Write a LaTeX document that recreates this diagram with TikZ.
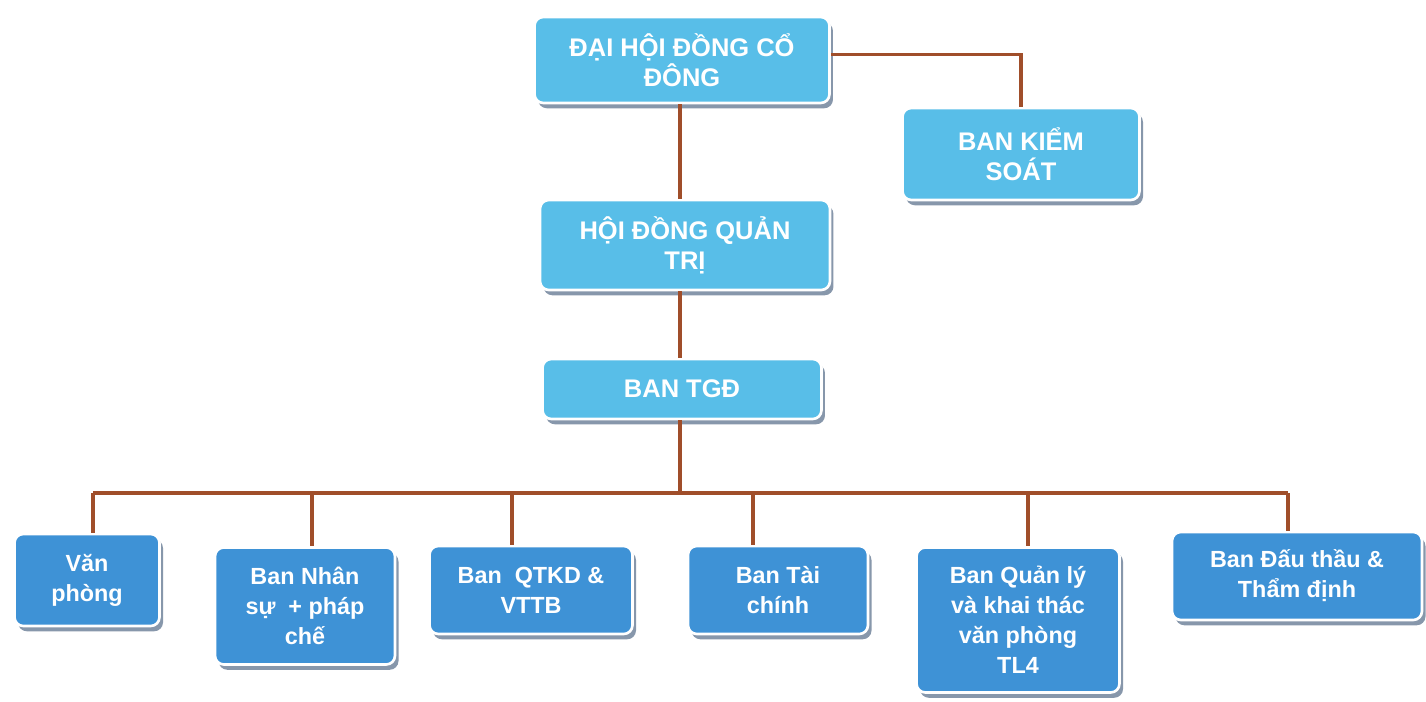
\documentclass[tikz,border=0pt]{standalone}
\usepackage{fontspec}
\setmainfont{Liberation Sans}
\usetikzlibrary{shadows}
\definecolor{topblue}{RGB}{88,190,232}
\definecolor{lowblue}{RGB}{62,146,214}
\definecolor{linkbrown}{RGB}{160,78,42}
\definecolor{shade}{RGB}{105,125,150}

\begin{document}
\begin{tikzpicture}[x=0.02cm,y=-0.02cm]
        \useasboundingbox (0,0) rectangle (1426,701);

        \begin{scope}[every node/.style={fill=topblue, draw=white, line width=1.5pt, rounded corners=5pt,
                      align=center, text=white, font=\bfseries\fontsize{14.5}{17}\selectfont,
                      drop shadow={shadow xshift=2pt, shadow yshift=-3pt, fill=shade, opacity=0.8}}]
            \node[minimum width=5.9cm, minimum height=1.72cm] (DH) at (682,60) {ĐẠI HỘI ĐỒNG CỔ\\ĐÔNG};
            \node[minimum width=4.74cm, minimum height=1.84cm] (KS) at (1021,154) {BAN KIỂM\\SOÁT};
            \node[minimum width=5.8cm, minimum height=1.8cm] (HD) at (685,245) {HỘI ĐỒNG QUẢN\\TRỊ};
            \node[minimum width=5.58cm, minimum height=1.2cm] (TGD) at (682,389) {BAN TGĐ};
        \end{scope}

        \begin{scope}[every node/.style={fill=lowblue, draw=white, line width=1.5pt, rounded corners=5pt,
                      align=center, text=white, font=\bfseries\fontsize{13.3}{17}\selectfont,
                      drop shadow={shadow xshift=2pt, shadow yshift=-3pt, fill=shade, opacity=0.8}}]
            \node[minimum width=2.9cm, minimum height=1.84cm] (VP) at (87,580) {Văn\\phòng};
            \node[minimum width=3.6cm, minimum height=2.34cm] (NS) at (305,606) {Ban Nhân\\sự~ + pháp\\chế};
            \node[minimum width=4.06cm, minimum height=1.76cm] (QT) at (531,590) {Ban~ QTKD \&\\VTTB};
            \node[minimum width=3.6cm, minimum height=1.76cm] (TC) at (778,590) {Ban Tài\\chính};
            \node[minimum width=4.06cm, minimum height=2.9cm] (QL) at (1018,620) {Ban Quản lý\\và khai thác\\văn phòng\\TL4};
            \node[minimum width=5.0cm, minimum height=1.76cm] (DT) at (1297,576) {Ban Đấu thầu \&\\Thẩm định};
        \end{scope}

        \coordinate (bus) at (680,493);
        \coordinate (d1) at (93,493);
        \coordinate (d2) at (312,493);
        \coordinate (d3) at (512,493);
        \coordinate (d4) at (753,493);
        \coordinate (d5) at (1028,493);
        \coordinate (d6) at (1288,493);

        \begin{scope}[every edge/.style={draw=linkbrown, line width=1.8pt}]
            \draw [linkbrown, line width=1.8pt] ([yshift=3pt]DH.east) -| (KS.north);
            \path (DH.south -| bus) edge (HD.north -| bus);
            \path (HD.south -| bus) edge (TGD.north -| bus);
            \path (TGD.south -| bus) edge (bus);
            \path (d1) edge (d6);
            \path (d1) edge (d1 |- VP.north);
            \path (d2) edge (d2 |- NS.north);
            \path (d3) edge (d3 |- QT.north);
            \path (d4) edge (d4 |- TC.north);
            \path (d5) edge (d5 |- QL.north);
            \path (d6) edge (d6 |- DT.north);
        \end{scope}
    \end{tikzpicture}
\end{document}
